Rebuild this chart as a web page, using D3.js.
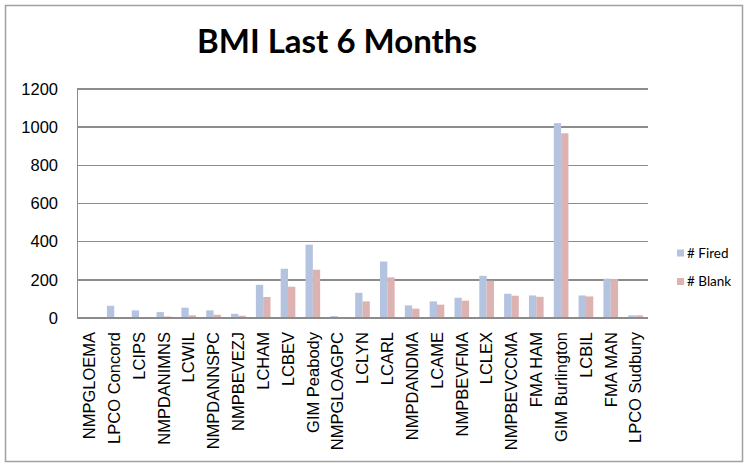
<!DOCTYPE html>
<meta charset="utf-8">
<style>
    body { margin: 0; background: #fff; }
    svg { display: block; font-family: Lato, "Open Sans", sans-serif; }
    .grid line { stroke: #8c8c8c; stroke-width: 1.5; shape-rendering: crispEdges; }
    .axis path, .axis line { stroke: #8c8c8c; stroke-width: 1.5; shape-rendering: crispEdges; }
    .axis text { fill: #000; font-size: 16.5px; }
</style>
<body>
<div id="chart"></div>
<script src="https://cdnjs.cloudflare.com/ajax/libs/d3/7.8.5/d3.min.js"></script>
<script>
    // categories along the x axis
    var categories = ["NMPGLOEMA", "LPCO Concord", "LCIPS", "NMPDANIMNS", "LCWIL", "NMPDANNSPC",
        "NMPBEVEZJ", "LCHAM", "LCBEV", "GIM Peabody", "NMPGLOAGPC", "LCLYN", "LCARL",
        "NMPDANDMA", "LCAME", "NMPBEVFMA", "LCLEX", "NMPBEVCCMA", "FMA HAM",
        "GIM Burlington", "LCBIL", "FMA MAN", "LPCO Sudbury"];
    var fired = [5, 64, 40, 31, 54, 40, 22, 174, 258, 384, 10, 132, 296,
        66, 87, 106, 221, 127, 118, 1021, 118, 206, 14];
    var blank = [1, 1, 2, 8, 14, 17, 12, 110, 164, 253, 5, 87, 213,
        49, 70, 91, 195, 117, 111, 968, 113, 204, 14];
    var seriesNames = ["# Fired", "# Blank"];
    var seriesColors = ["#b4c3df", "#ddb3b2"];
    var yTicks = [0, 200, 400, 600, 800, 1000, 1200];

    var width = 745, height = 465;
    var plot = { left: 77, right: 648, top: 89, bottom: 318 };

    var svg = d3.select("#chart").append("svg")
        .attr("width", width)
        .attr("height", height);

    // outer chart frame
    svg.append("rect")
        .attr("x", 5.5).attr("y", 5.5)
        .attr("width", 737).attr("height", 456)
        .attr("fill", "none")
        .attr("stroke", "#a0a0a0")
        .attr("stroke-width", 1.5);

    svg.append("text")
        .attr("x", 337).attr("y", 53)
        .attr("text-anchor", "middle")
        .style("font-size", "33px")
        .style("font-weight", "bold")
        .text("BMI Last 6 Months");

    var x0 = d3.scaleBand()
        .domain(categories)
        .range([plot.left, plot.right])
        .paddingInner(0.41)
        .paddingOuter(0.205);
    var x1 = d3.scaleBand()
        .domain(seriesNames)
        .range([0, x0.bandwidth()]);
    var y = d3.scaleLinear()
        .domain([0, 1200])
        .range([plot.bottom, plot.top]);

    // horizontal gridlines
    svg.append("g").attr("class", "grid")
        .selectAll("line")
        .data(yTicks.slice(1))
        .enter().append("line")
        .attr("x1", plot.left).attr("x2", plot.right)
        .attr("y1", d => y(d)).attr("y2", d => y(d));

    var rows = categories.map((c, i) => ({ cat: c, values: [fired[i], blank[i]] }));

    svg.append("g")
        .selectAll("g")
        .data(rows)
        .enter().append("g")
        .attr("transform", d => "translate(" + x0(d.cat) + ",0)")
        .selectAll("rect")
        .data(d => d.values.map((v, j) => ({ name: seriesNames[j], value: v, color: seriesColors[j] })))
        .enter().append("rect")
        .attr("x", d => x1(d.name))
        .attr("y", d => y(d.value))
        .attr("width", x1.bandwidth())
        .attr("height", d => y(0) - y(d.value))
        .attr("fill", d => d.color);

    // y axis
    svg.append("g").attr("class", "axis")
        .attr("transform", "translate(" + plot.left + ",0)")
        .call(d3.axisLeft(y).tickValues(yTicks).tickFormat(d3.format("d"))
            .tickSize(0).tickPadding(19));

    // x axis with rotated labels
    var gX = svg.append("g").attr("class", "axis")
        .attr("transform", "translate(0," + plot.bottom + ")")
        .call(d3.axisBottom(x0).tickSize(0).tickSizeOuter(0));
    gX.select(".domain").attr("d", "M" + plot.left + ",0H" + plot.right);
    gX.selectAll("text")
        .attr("transform", "rotate(-90)")
        .attr("text-anchor", "end")
        .attr("x", -14)
        .attr("y", 0)
        .attr("dy", "0.35em");

    // legend
    var legend = svg.append("g")
        .selectAll("g")
        .data(seriesNames)
        .enter().append("g")
        .attr("transform", (d, i) => "translate(677," + (253 + i * 28.5) + ")");
    legend.append("rect")
        .attr("x", 0).attr("y", -3.5)
        .attr("width", 7).attr("height", 7)
        .attr("fill", (d, i) => seriesColors[i]);
    legend.append("text")
        .attr("x", 10).attr("dy", "0.35em")
        .style("font-size", "13.5px")
        .text(d => d);
</script>
</body>
</html>
